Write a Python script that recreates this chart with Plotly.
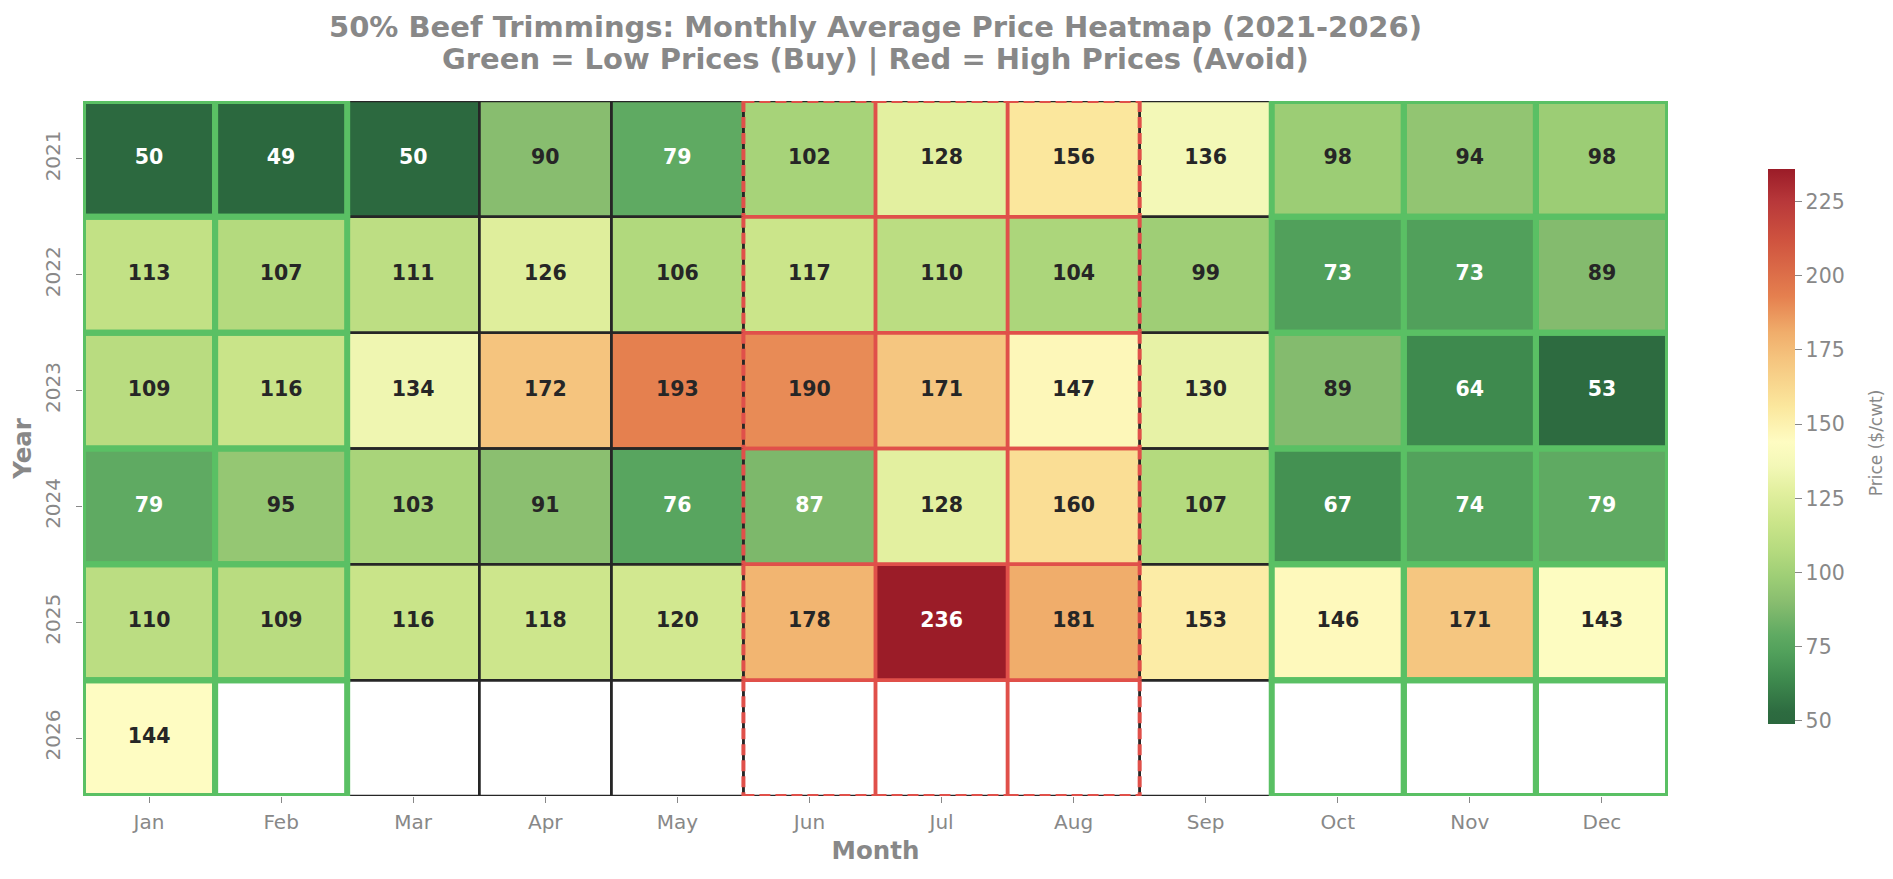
import plotly.graph_objects as go

# ---------------- data ----------------
months = ["Jan", "Feb", "Mar", "Apr", "May", "Jun", "Jul", "Aug", "Sep", "Oct", "Nov", "Dec"]
years = ["2021", "2022", "2023", "2024", "2025", "2026"]

p2021 = [50, 49, 50, 90, 79, 102, 128, 156, 136, 98, 94, 98]
p2022 = [113, 107, 111, 126, 106, 117, 110, 104, 99, 73, 73, 89]
p2023 = [109, 116, 134, 172, 193, 190, 171, 147, 130, 89, 64, 53]
p2024 = [79, 95, 103, 91, 76, 87, 128, 160, 107, 67, 74, 79]
p2025 = [110, 109, 116, 118, 120, 178, 236, 181, 153, 146, 171, 143]
p2026 = [144, None, None, None, None, None, None, None, None, None, None, None]

buy_months = ["Jan", "Feb", "Oct", "Nov", "Dec"]
avoid_months = ["Jun", "Jul", "Aug"]

title_line1 = "50% Beef Trimmings: Monthly Average Price Heatmap (2021-2026)"
title_line2 = "Green = Low Prices (Buy) | Red = High Prices (Avoid)"
colorbar_label = "Price ($/cwt)"

rows = [p2021, p2022, p2023, p2024, p2025, p2026]

# ---------------- style ----------------
FONT = "DejaVu Sans"
GRAY = "#888888"
zmin, zmax = 49, 236

stops = [
    (49, "#2b683e"), (53, "#2d6b40"), (64, "#3e8a4e"), (73, "#51a05b"),
    (79, "#5faa62"), (90, "#88bd6f"), (98, "#9ccd75"), (107, "#b4da7e"),
    (117, "#cbe58a"), (128, "#e3f0a0"), (136, "#f3f8b7"), (144, "#fefcc2"),
    (156, "#fbe79d"), (172, "#f5c47e"), (181, "#f0ad6b"), (193, "#e5804f"),
    (212, "#cf533f"), (225, "#b8383a"), (236, "#9b1c28"),
]
colorscale = [[(v - zmin) / (zmax - zmin), c] for v, c in stops]

fig = go.Figure()

fig.add_trace(go.Heatmap(
    z=rows,
    x=list(range(len(months))),
    y=list(range(len(years))),
    colorscale=colorscale,
    zmin=zmin, zmax=zmax,
    hoverongaps=False,
    colorbar=dict(
        thickness=27, len=0.799, lenmode="fraction",
        x=1.063, xanchor="left", xpad=0,
        y=0.503, yanchor="middle", ypad=0,
        outlinewidth=0,
        tickvals=[50, 75, 100, 125, 150, 175, 200, 225],
        ticks="outside", ticklen=7, tickcolor=GRAY, tickwidth=1.2,
        tickfont=dict(family=FONT, size=20.5, color=GRAY),
    ),
))

# annotations as text trace
tx, ty, tt, tc = [], [], [], []
for r, row in enumerate(rows):
    for c, v in enumerate(row):
        if v is None:
            continue
        tx.append(c)
        ty.append(r)
        tt.append(str(v))
        tc.append("#ffffff" if (v <= 87 or v >= 215) else "#262626")

fig.add_trace(go.Scatter(
    x=tx, y=ty, text=tt, mode="text",
    textfont=dict(family=FONT, size=20.5, color=tc, weight="bold"),
    hoverinfo="skip", showlegend=False,
))

shapes = []
nr, nc = len(years), len(months)
# black cell borders
for r in range(nr):
    for c in range(nc):
        shapes.append(dict(type="rect", xref="x", yref="y",
                           x0=c - 0.5, x1=c + 0.5, y0=r - 0.5, y1=r + 0.5,
                           line=dict(color="#262626", width=2.5), layer="above"))
# green buy-month borders
for r in range(nr):
    for c, m in enumerate(months):
        if m in buy_months:
            shapes.append(dict(type="rect", xref="x", yref="y",
                               x0=c - 0.5, x1=c + 0.5, y0=r - 0.5, y1=r + 0.5,
                               line=dict(color="#5ac064", width=6), layer="above"))
# red avoid-month borders: solid inside the block, dashed on its outer boundary
avoid_idx = [months.index(m) for m in avoid_months]
RED = "#e0504a"
for r in range(nr):
    for c in avoid_idx:
        edges = [
            ((c - 0.5, r - 0.5), (c + 0.5, r - 0.5), r - 1 >= 0),            # top
            ((c - 0.5, r + 0.5), (c + 0.5, r + 0.5), r + 1 < nr),            # bottom
            ((c - 0.5, r - 0.5), (c - 0.5, r + 0.5), (c - 1) in avoid_idx),  # left
            ((c + 0.5, r - 0.5), (c + 0.5, r + 0.5), (c + 1) in avoid_idx),  # right
        ]
        for (x0, y0), (x1, y1), inner in edges:
            if inner:
                line = dict(color=RED, width=3.5)
            else:
                line = dict(color=RED, width=4, dash="11px,5px")
            shapes.append(dict(type="line", xref="x", yref="y",
                               x0=x0, y0=y0, x1=x1, y1=y1,
                               line=line, layer="above"))

annotations = [
    dict(text="<b>" + title_line1 + "</b>", xref="paper", yref="paper",
         x=0.5, y=1.1065, xanchor="center", yanchor="middle", showarrow=False,
         font=dict(family=FONT, size=29, color=GRAY)),
    dict(text="<b>" + title_line2 + "</b>", xref="paper", yref="paper",
         x=0.5, y=1.0604, xanchor="center", yanchor="middle", showarrow=False,
         font=dict(family=FONT, size=29, color=GRAY)),
    dict(text=colorbar_label, xref="paper", yref="paper",
         x=1.1312, y=0.509, xanchor="center", yanchor="middle", showarrow=False,
         textangle=-90, font=dict(family=FONT, size=17, color=GRAY)),
]

fig.update_layout(
    width=1877, height=863,
    margin=dict(l=75, r=217, t=93, b=75, autoexpand=False),
    paper_bgcolor="white", plot_bgcolor="white",
    shapes=shapes,
    annotations=annotations,
    showlegend=False,
    font=dict(family=FONT, color=GRAY),
    xaxis=dict(
        range=[-0.5, nc - 0.5],
        tickvals=list(range(nc)), ticktext=months,
        showgrid=False, zeroline=False, showline=False, automargin=False,
        ticks="outside", ticklen=6, tickcolor=GRAY, tickwidth=1.2,
        ticklabelstandoff=2,
        tickfont=dict(family=FONT, size=20, color=GRAY),
        title=dict(text="<b>Month</b>", standoff=8,
                   font=dict(family=FONT, size=24.5, color=GRAY)),
    ),
    yaxis=dict(
        range=[nr - 0.5, -0.5],
        tickvals=list(range(nr)), ticktext=years,
        tickangle=-90,
        showgrid=False, zeroline=False, showline=False, automargin=False,
        ticks="outside", ticklen=6, tickcolor=GRAY, tickwidth=1.2,
        ticklabelstandoff=8,
        tickfont=dict(family=FONT, size=20, color=GRAY),
        title=dict(text="<b>Year</b>", standoff=2,
                   font=dict(family=FONT, size=24.5, color=GRAY)),
    ),
)

fig.write_html("out.html")
